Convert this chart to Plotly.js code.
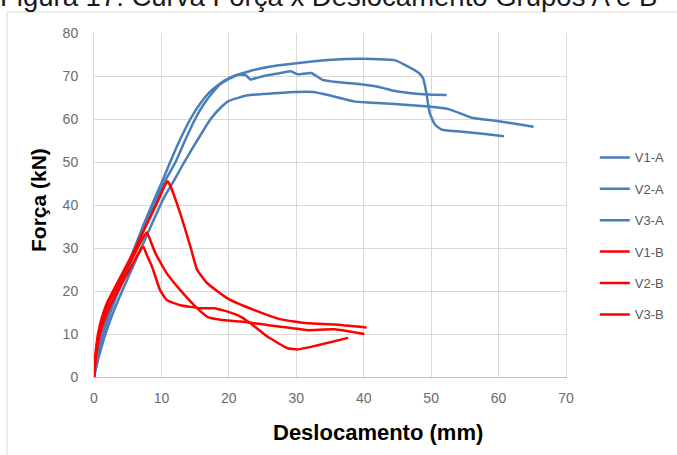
<!DOCTYPE html>
<html>
<head>
<meta charset="utf-8">
<script src="https://cdn.plot.ly/plotly-3.0.1.min.js"></script>
<style>html,body{margin:0;padding:0;background:#fff;}#chart{width:677px;height:455px;}</style>
</head>
<body>
<div id="chart"></div>
<script>
// Deslocamento (mm) / Força (kN)
const v1aX = [0,0.4,1.1,2,3.2,4.5,6,7.5,9,10.2,11.3,12.7,14.3,15.7,17,18.5,20,22.8,26.2,29.7,34.7,39.6,44.6,46.1,48.1,48.8,49.3,49.8,50.6,51.6,55,58,60.8];
const v1aY = [0,4,9,14,19,24,30,36,41.5,45.8,50,55,60,63.5,66,68,69.5,71,72.2,72.9,73.7,74,73.7,72.6,70.8,69.5,66,61.3,58.6,57.5,57,56.5,56];
const v2aX = [0,0.5,1.2,2.2,3.4,4.7,6.3,7.8,9.3,10.6,12.1,13.5,15,16.3,17.5,18.8,20,21.3,22.5,23.2,24.7,27,29.2,30.2,32.2,33.9,36,38.2,42.1,44.6,47,49.6,52.3];
const v2aY = [0,4,9,14,19,24,30,36,41.5,45.8,50,55,60,63.5,66,68.2,69.3,70.3,70.2,69.2,69.8,70.5,71.1,70.4,70.7,69.1,68.6,68.3,67.5,66.5,66,65.7,65.6];
const v3aX = [0,0.6,1.5,2.6,3.9,5.3,7,8.7,10.3,11.9,13.4,15.3,17.3,18.7,20,22.8,25,29.8,32.5,34.7,38.6,42,44.6,49.6,52.6,54.5,56,59.5,62,65.2];
const v3aY = [0,4,9,14,19,24,30,36,41.5,45.8,50,55,60,62.5,64.2,65.5,65.8,66.3,66.3,65.6,64.1,63.7,63.5,62.9,62.3,61.2,60.3,59.6,59,58.2];
const v1bX = [0,0.2,0.6,1.2,2,3,4.5,6,7.5,9.2,10.5,10.9,11.3,12.8,14.3,15.3,16.8,19.8,23.7,27.7,31.7,35.7,40.4];
const v1bY = [0,5,10,14,17.5,20.5,25,29.5,34.5,40,44.5,45.5,44.5,38,30.3,24.9,21.8,18.3,15.6,13.4,12.5,12.2,11.5];
const v2bX = [0,0.25,0.7,1.4,2.3,3.3,4.8,6.3,7.5,7.85,8.3,9.1,10.8,12.8,15.3,16.8,18.8,21.8,24.7,27.7,29.7,31.7,35.7,40.1];
const v2bY = [0,5,10,14,17.5,20.5,25,29.5,33,33.6,32,28.8,24.1,20.2,16,14,13.3,12.9,12.3,11.7,11.3,10.9,11.1,10];
const v3bX = [0,0.3,0.9,1.7,2.7,3.7,5.1,6.5,7.1,7.35,7.8,8.6,9.8,10.8,12.8,15.8,17.8,19.8,21.8,23.2,25.7,28.7,30.2,33.2,37.7];
const v3bY = [0,5,10,14,17.5,20.5,24.5,28.5,30,30.2,28.5,25.7,20.2,17.9,16.7,16,16,15.2,14,12.5,9.4,6.7,6.4,7.4,9.1];
const seriesNames = ['V1-A','V2-A','V3-A','V1-B','V2-B','V3-B'];
const xTicks = [0,10,20,30,40,50,60,70];
const yTicks = [0,10,20,30,40,50,60,70,80];

const blue = '#4a7ebb', red = '#ff0000';
const xs = [v1aX,v2aX,v3aX,v1bX,v2bX,v3bX];
const ys = [v1aY,v2aY,v3aY,v1bY,v2bY,v3bY];
const traces = seriesNames.map((n,i)=>({
  x: xs[i], y: ys[i], name: n, type:'scatter', mode:'lines',
  legendgroup: n,
  line:{color: i<3?blue:red, width:2.5, shape:'spline', smoothing:0.4}
}));

const layout = {
  width:677, height:455,
  margin:{l:94, r:111, t:33, b:78, autoexpand:false},
  paper_bgcolor:'#ffffff', plot_bgcolor:'#ffffff',
  font:{family:'Liberation Sans, Arial, sans-serif', color:'#595959'},
  showlegend:true,
  legend:{x:1.061, xanchor:'left', y:0.41, yanchor:'middle', traceorder:'grouped', tracegroupgap:11.5,
          font:{size:13, color:'#595959'}, bgcolor:'rgba(0,0,0,0)'},
  xaxis:{range:[0,70], tickvals:xTicks, ticktext:xTicks.map(String), showgrid:true, gridcolor:'#d9d9d9', gridwidth:1,
         zeroline:false, showline:true, linecolor:'#bfbfbf', linewidth:1, mirror:false,
         ticks:'outside', ticklen:8, tickcolor:'rgba(0,0,0,0)', tickfont:{size:14, color:'#6b6b6b'}, fixedrange:true},
  yaxis:{range:[0,80], tickvals:yTicks, ticktext:yTicks.map(String), showgrid:true, gridcolor:'#d9d9d9', gridwidth:1,
         zeroline:false, showline:true, linecolor:'#d9d9d9', linewidth:1, mirror:true,
         ticks:'outside', ticklen:12, tickcolor:'rgba(0,0,0,0)', tickfont:{size:14, color:'#6b6b6b'}, fixedrange:true},
  shapes:[{type:'rect', xref:'paper', yref:'paper', x0:(7-94)/472, x1:2, y0:-2, y1:(377-12)/344,
           line:{color:'#d9d9d9', width:1}, fillcolor:'rgba(0,0,0,0)', layer:'below'}],
  annotations:[
    {text:'Figura 17: Curva Força x Deslocamento Grupos A e B', xref:'paper', yref:'paper',
     x:(-2-94)/472, xanchor:'left', y:(377-14)/344, yanchor:'bottom', showarrow:false,
     font:{size:27.5, color:'#1a1a1a', family:'Liberation Sans, Arial, sans-serif'}},
    {text:'<b>Deslocamento (mm)</b>', xref:'paper', yref:'paper', x:(378-94)/472, y:(377-432)/344,
     xanchor:'center', yanchor:'middle', showarrow:false, font:{size:22, color:'#000000'}},
    {text:'<b>Força (kN)</b>', xref:'paper', yref:'paper', x:(38-94)/472, y:(377-200)/344,
     xanchor:'center', yanchor:'middle', textangle:-90, showarrow:false, font:{size:21, color:'#000000'}}
  ]
};
Plotly.newPlot('chart', traces, layout, {staticPlot:true, displayModeBar:false});
</script>
</body>
</html>
